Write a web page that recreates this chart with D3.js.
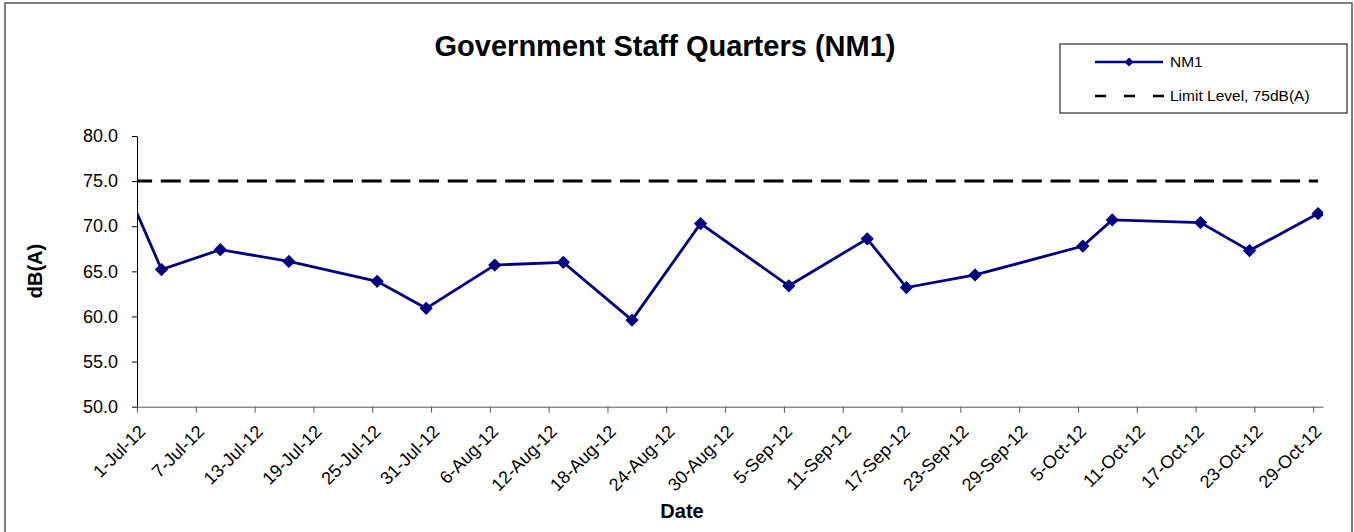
<!DOCTYPE html>
<html>
<head>
<meta charset="utf-8">
<script src="https://cdn.jsdelivr.net/npm/d3@7"></script>
<style>
  body { margin: 0; background: #fff; }
  svg { display: block; font-family: Arial, "Liberation Sans", sans-serif; }
</style>
</head>
<body>
<svg id="chart" width="1354" height="532"></svg>
<script>
// measurement dates (first one sits just before the axis start and gets clipped)
const dates = [
  "2012-06-30", "2012-07-03", "2012-07-09", "2012-07-16", "2012-07-25", "2012-07-30",
  "2012-08-06", "2012-08-13", "2012-08-20", "2012-08-27", "2012-09-05", "2012-09-13",
  "2012-09-17", "2012-09-24", "2012-10-05", "2012-10-08", "2012-10-17", "2012-10-22",
  "2012-10-29"
];
const nm1 = [
  72.7, 65.2, 67.4, 66.1, 63.9, 60.9,
  65.7, 66.0, 59.6, 70.3, 63.4, 68.6,
  63.2, 64.6, 67.8, 70.7, 70.4, 67.3,
  71.4
];
const limitLevel = 75;
const yTicks = [50, 55, 60, 65, 70, 75, 80];
const axisStart = "2012-07-01";
const axisEnd = "2012-10-30";
const tickStepDays = 6;

const parse = d3.timeParse("%Y-%m-%d");
const data = dates.map((d, i) => ({ date: parse(d), value: nm1[i] }));

const svg = d3.select("#chart");
const margin = { left: 137, right: 1323, top: 136, bottom: 406.7 };

const x = d3.scaleTime()
  .domain([parse(axisStart), parse(axisEnd)])
  .range([margin.left, margin.right]);

const y = d3.scaleLinear()
  .domain([d3.min(yTicks), d3.max(yTicks)])
  .range([margin.bottom, margin.top]);

// points sit in the middle of their day slot (Excel date axis)
const xc = d => x(d3.timeHour.offset(d, 12));

// outer chart border
svg.append("rect")
  .attr("x", 5).attr("y", 3)
  .attr("width", 1347).attr("height", 540)
  .attr("fill", "none")
  .attr("stroke", "#555")
  .attr("stroke-width", 1.5);

svg.append("clipPath").attr("id", "plot-clip")
  .append("rect")
  .attr("x", margin.left).attr("y", margin.top - 10)
  .attr("width", margin.right - margin.left)
  .attr("height", margin.bottom - margin.top + 20);

// title
svg.append("text")
  .attr("x", 665).attr("y", 56)
  .attr("text-anchor", "middle")
  .style("font-size", "29px")
  .style("font-weight", "bold")
  .text("Government Staff Quarters (NM1)");

// y axis
const yAxis = svg.append("g")
  .attr("transform", `translate(${margin.left},0)`)
  .call(d3.axisLeft(y).tickValues(yTicks).tickFormat(d3.format(".1f")).tickSize(5).tickSizeOuter(0).tickPadding(14));
yAxis.selectAll("text").style("font-size", "18px").attr("fill", "#000");
yAxis.selectAll("line, path").attr("stroke", "#000");

// x axis
const tickDates = d3.timeDay.range(parse(axisStart), parse(axisEnd), tickStepDays);
const xAxis = svg.append("g")
  .attr("transform", `translate(0,${margin.bottom})`)
  .call(d3.axisBottom(x).tickValues(tickDates).tickFormat(d3.timeFormat("%-d-%b-%y")).tickSize(6).tickSizeOuter(0));
xAxis.selectAll("line, path").attr("stroke", "#555");
xAxis.selectAll("text")
  .style("font-size", "18px")
  .attr("fill", "#000")
  .attr("text-anchor", "end")
  .attr("dy", 0)
  .attr("y", 0)
  .attr("transform", "translate(9,26) rotate(-45)");

// axis titles
svg.append("text")
  .attr("x", 682).attr("y", 518)
  .attr("text-anchor", "middle")
  .style("font-size", "20px")
  .style("font-weight", "bold")
  .text("Date");

svg.append("text")
  .attr("transform", "translate(42,271) rotate(-90)")
  .attr("text-anchor", "middle")
  .style("font-size", "20px")
  .style("font-weight", "bold")
  .text("dB(A)");

const plot = svg.append("g").attr("clip-path", "url(#plot-clip)");

// limit level line, drawn as a series on the same dates
plot.append("path")
  .datum(data)
  .attr("fill", "none")
  .attr("stroke", "#000")
  .attr("stroke-width", 3)
  .attr("stroke-dasharray", "20,8.7")
  .attr("d", d3.line().x(d => xc(d.date)).y(() => y(limitLevel)));

// NM1 series
plot.append("path")
  .datum(data)
  .attr("fill", "none")
  .attr("stroke", "#000080")
  .attr("stroke-width", 2.8)
  .attr("d", d3.line().x(d => xc(d.date)).y(d => y(d.value)));

const diamond = d3.symbol().type(d3.symbolSquare).size(88);
plot.selectAll(".marker")
  .data(data)
  .enter().append("path")
  .attr("class", "marker")
  .attr("d", diamond)
  .attr("transform", d => `translate(${xc(d.date)},${y(d.value)}) rotate(45)`)
  .attr("fill", "#000080");

// legend
const legend = svg.append("g");
legend.append("rect")
  .attr("x", 1060).attr("y", 44)
  .attr("width", 287).attr("height", 69)
  .attr("fill", "#fff")
  .attr("stroke", "#000")
  .attr("stroke-width", 1);

legend.append("line")
  .attr("x1", 1095).attr("x2", 1163).attr("y1", 62).attr("y2", 62)
  .attr("stroke", "#000080").attr("stroke-width", 2.5);
legend.append("path")
  .attr("d", d3.symbol().type(d3.symbolSquare).size(40))
  .attr("transform", "translate(1129,62) rotate(45)")
  .attr("fill", "#000080");
legend.append("text")
  .attr("x", 1170).attr("y", 62).attr("dy", "0.35em")
  .style("font-size", "15.5px")
  .text("NM1");

legend.append("line")
  .attr("x1", 1095).attr("x2", 1164).attr("y1", 96).attr("y2", 96)
  .attr("stroke", "#000").attr("stroke-width", 2.5)
  .attr("stroke-dasharray", "11,18");
legend.append("text")
  .attr("x", 1170).attr("y", 96).attr("dy", "0.35em")
  .style("font-size", "15.5px")
  .text("Limit Level, 75dB(A)");
</script>
</body>
</html>
